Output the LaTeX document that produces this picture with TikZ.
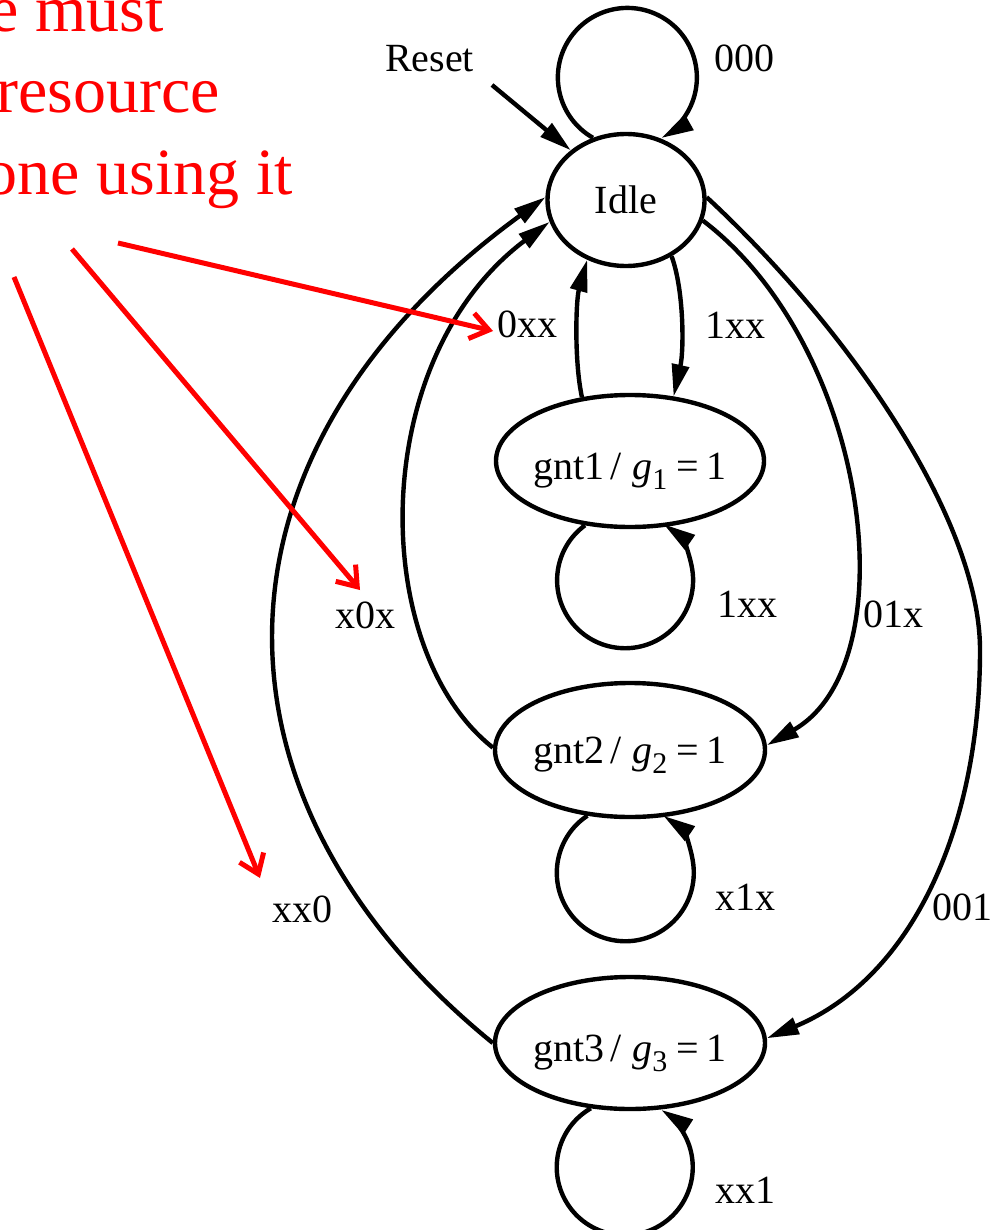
\documentclass[tikz,border=0pt]{standalone}
\usepackage{fontspec}
\setmainfont{Liberation Serif}
\usetikzlibrary{arrows.meta,shapes.geometric}
\newcommand\labfont{\fontsize{40}{48}\selectfont}
\newcommand\redfont{\fontsize{66}{80}\selectfont}
\newcommand\subone[1]{\textit{g}\raisebox{-10pt}{\fontsize{30}{30}\selectfont #1}}
\newcommand\gntlabel[1]{\makebox[0pt]{gnt#1\hspace{6pt}/\hspace{11pt}\subone{#1}\hspace{9pt}=\hspace{8pt}1}}
\begin{document}
\begin{tikzpicture}[x=1pt,y=-1pt,
  state/.style={ellipse,draw,line width=4.4pt,inner sep=0pt,text depth=0pt,font=\labfont},
  lbl/.style={font=\labfont,inner sep=0pt,anchor=base west},
  arr/.style={line width=4.4pt,-{Triangle[length=32pt,width=17pt]}},
  redtxt/.style={font=\redfont,text=red,inner sep=0pt,anchor=base east},
  redarr/.style={draw=red,line width=5pt,-{Straight Barb[length=18pt,width=26pt]}}]
\useasboundingbox (0,0) rectangle (993,1230);
% states
\node[state,minimum width=157pt,minimum height=132pt,text height=27pt] (idle) at (626,200) {\makebox[0pt]{Idle}};
\node[state,minimum width=268pt,minimum height=132pt,text height=36pt] (gnt1) at (630,461) {\gntlabel{1}};
\node[state,minimum width=270pt,minimum height=134pt,text height=27pt] (gnt2) at (630,750) {\gntlabel{2}};
\node[state,minimum width=270pt,minimum height=132pt,text height=36pt] (gnt3) at (630,1043) {\gntlabel{3}};
% labels
\node[lbl] (reset) at (385,72) {Reset};
\node[lbl] (l000) at (714,72) {000};
\node[lbl] (l0xx) at (497,337) {0xx};
\node[lbl] (l1xxa) at (705,338) {1xx};
\node[lbl] (l1xxb) at (717,617) {1xx};
\node[lbl] (l01x) at (863,627) {01x};
\node[lbl] (lx0x) at (335,628) {x0x};
\node[lbl] (lx1x) at (715,910) {x1x};
\node[lbl] (l001) at (932,920) {001};
\node[lbl] (lxx0) at (272,922) {xx0};
\node[lbl] (lxx1) at (715,1203) {xx1};
% reset arrow
\coordinate (rst) at (492,85);
\draw[arr] (rst) -- (idle.138);
% self loops
\draw[arr] (idle.118) arc[start angle=119.7,end angle=420.6,radius=69.5];
\draw[arr] (gnt1.-125) arc[start angle=233.8,end angle=-55.4,radius=68];
\draw[arr] (gnt2.-123) arc[start angle=236.3,end angle=-56.1,radius=68.5];
\draw[arr] (gnt3.-121) arc[start angle=240,end angle=-57.5,radius=68];
% transitions
\draw[arr] (idle.-51) .. controls (684,290) and (684,350) .. (gnt1.56);
\draw[arr] (gnt1.127) .. controls (574,360) and (576,300) .. (idle.-123);
\draw[arr] (gnt2.179) .. controls (369,650) and (366,360) .. (idle.-164);
\draw[arr] (gnt3.180) .. controls (194,800) and (194,453) .. (idle.178);
\draw[arr] (idle.-15) .. controls (870,348) and (909,664) .. (gnt2.2);
\draw[arr] (idle.2) .. controls (850,330) and (980,520) .. (980,650)
           .. controls (980,830) and (911,978) .. (gnt3.2);
% red annotation
\node[redtxt] (t1) at (164,32) {e must};
\node[redtxt] (t2) at (220,113) {resource};
\node[redtxt] (t3) at (293,195) {one using it};
\coordinate (ra1) at (118,243);
\coordinate (ra2) at (72,249);
\coordinate (ra3) at (14,277);
\coordinate (rb1) at (493,331);
\coordinate (rb2) at (360,590);
\coordinate (rb3) at (260,878);
\draw[redarr] (ra1) -- (rb1);
\draw[redarr] (ra2) -- (rb2);
\draw[redarr] (ra3) -- (rb3);
\end{tikzpicture}
\end{document}
